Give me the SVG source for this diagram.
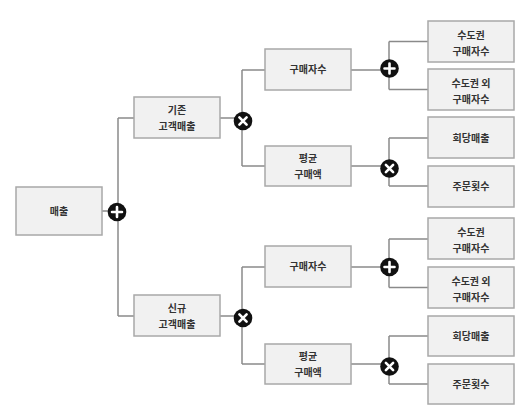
<svg xmlns="http://www.w3.org/2000/svg" width="526" height="412" viewBox="0 0 526 412">
<style>
.box{fill:#f1f1f1;stroke:#a8a8a8;stroke-width:1.5}
.t{font-family:"Noto Sans CJK KR","Noto Sans",sans-serif;font-size:10px;font-weight:bold;fill:#333;text-anchor:middle}
.ln{fill:none;stroke:#8a8a8a;stroke-width:1.5}
.op{fill:#111}
.sym{stroke:#fff;stroke-width:2.6;stroke-linecap:round}
</style>
<defs>
<g id="plus"><circle r="9.3" class="op"/><path class="sym" d="M-5,0H5M0,-5V5"/></g>
<g id="times"><circle r="9.3" class="op"/><path class="sym" d="M-3.6,-3.6L3.6,3.6M3.6,-3.6L-3.6,3.6"/></g>
</defs>
<g id="connectors">
<path class="ln" d="M102,211H118M118,118V316M118,118H134M118,316H134"/>
<path class="ln" d="M220,118H242M242,70V166M242,70H265M242,166H265"/>
<path class="ln" d="M220,316H242M242,267V364M242,267H265M242,364H265"/>
<path class="ln" d="M351,70H389M389,41.5V89.5M389,41.5H428M389,89.5H428"/>
<path class="ln" d="M351,166H389M389,138V186M389,138H428M389,186H428"/>
<path class="ln" d="M351,267H389M389,239V287.5M389,239H428M389,287.5H428"/>
<path class="ln" d="M351,364H389M389,336V384M389,336H428M389,384H428"/>
</g>
<g id="operators">
<use href="#plus" x="117" y="212"/>
<use href="#times" x="243" y="121"/>
<use href="#times" x="243" y="318"/>
<use href="#plus" x="389.5" y="68.5"/>
<use href="#times" x="389.5" y="168.5"/>
<use href="#plus" x="389.5" y="267"/>
<use href="#times" x="389.5" y="366.5"/>
</g>
<g id="n-sales"><rect class="box" x="16" y="187" width="86" height="48"/><text class="t" x="59" y="215">매출</text></g>
<g id="n-existing"><rect class="box" x="134" y="97" width="86" height="41"/><text class="t" x="177" y="114">기존</text><text class="t" x="177" y="130">고객매출</text></g>
<g id="n-new"><rect class="box" x="134" y="295" width="86" height="41"/><text class="t" x="177" y="312">신규</text><text class="t" x="177" y="328">고객매출</text></g>
<g id="n-buyers1"><rect class="box" x="265" y="49" width="86" height="41"/><text class="t" x="308" y="73">구매자수</text></g>
<g id="n-avg1"><rect class="box" x="265" y="146" width="86" height="40"/><text class="t" x="308" y="162">평균</text><text class="t" x="308" y="178">구매액</text></g>
<g id="n-buyers2"><rect class="box" x="265" y="246" width="86" height="41"/><text class="t" x="308" y="270">구매자수</text></g>
<g id="n-avg2"><rect class="box" x="265" y="344" width="86" height="40"/><text class="t" x="308" y="360">평균</text><text class="t" x="308" y="376">구매액</text></g>
<g id="n-cap1"><rect class="box" x="428" y="21" width="86" height="41"/><text class="t" x="471" y="38.5">수도권</text><text class="t" x="471" y="54.5">구매자수</text></g>
<g id="n-noncap1"><rect class="box" x="428" y="69" width="86" height="41"/><text class="t" x="471" y="86.5">수도권 외</text><text class="t" x="471" y="102.5">구매자수</text></g>
<g id="n-perorder1"><rect class="box" x="428" y="117" width="86" height="41"/><text class="t" x="471" y="141.5">회당매출</text></g>
<g id="n-orders1"><rect class="box" x="428" y="166" width="86" height="41"/><text class="t" x="471" y="189.5">주문횟수</text></g>
<g id="n-cap2"><rect class="box" x="428" y="218" width="86" height="41"/><text class="t" x="471" y="235.5">수도권</text><text class="t" x="471" y="251.5">구매자수</text></g>
<g id="n-noncap2"><rect class="box" x="428" y="267" width="86" height="41"/><text class="t" x="471" y="284.5">수도권 외</text><text class="t" x="471" y="300.5">구매자수</text></g>
<g id="n-perorder2"><rect class="box" x="428" y="316" width="86" height="40"/><text class="t" x="471" y="339.5">회당매출</text></g>
<g id="n-orders2"><rect class="box" x="428" y="364" width="86" height="40"/><text class="t" x="471" y="387.5">주문횟수</text></g>
</svg>
